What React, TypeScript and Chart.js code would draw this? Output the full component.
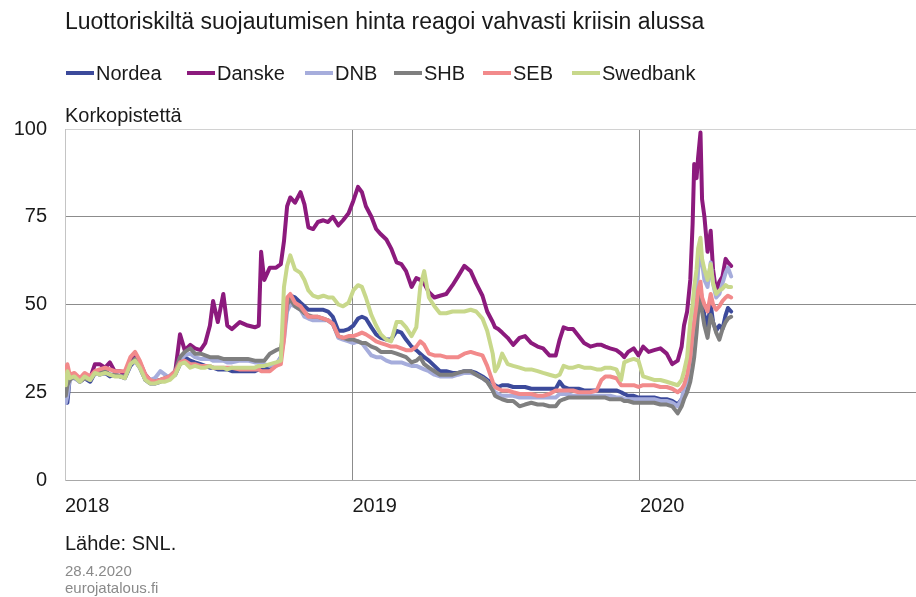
import React, { useEffect, useRef } from "react";
import { Chart, registerables } from "chart.js";

Chart.register(...registerables);

const titleText = "Luottoriskiltä suojautumisen hinta reagoi vahvasti kriisin alussa";
const unitText = "Korkopistettä";
const sourceText = "Lähde: SNL.";
const dateText = "28.4.2020";
const siteText = "eurojatalous.fi";

const yearTicks = [2018, 2019, 2020];
const yTicks = [0, 25, 50, 75, 100];

const dates = [
  "2018-01-02", "2018-01-04", "2018-01-07", "2018-01-13", "2018-01-20", "2018-01-26", "2018-02-02", "2018-02-08", "2018-02-14", "2018-02-21",
  "2018-02-27", "2018-03-05", "2018-03-12", "2018-03-18", "2018-03-25", "2018-03-31", "2018-04-06", "2018-04-13", "2018-04-19", "2018-04-25",
  "2018-05-02", "2018-05-08", "2018-05-14", "2018-05-21", "2018-05-27", "2018-06-02", "2018-06-09", "2018-06-15", "2018-06-22", "2018-06-28",
  "2018-07-04", "2018-07-08", "2018-07-14", "2018-07-21", "2018-07-26", "2018-08-01", "2018-08-11", "2018-08-21", "2018-08-30", "2018-09-04",
  "2018-09-07", "2018-09-11", "2018-09-18", "2018-09-26", "2018-10-02", "2018-10-06", "2018-10-10", "2018-10-14", "2018-10-20", "2018-10-27",
  "2018-11-01", "2018-11-06", "2018-11-12", "2018-11-18", "2018-11-25", "2018-12-01", "2018-12-07", "2018-12-14", "2018-12-20", "2018-12-27",
  "2019-01-02", "2019-01-08", "2019-01-13", "2019-01-18", "2019-01-25", "2019-01-31", "2019-02-06", "2019-02-13", "2019-02-19", "2019-02-26",
  "2019-03-04", "2019-03-10", "2019-03-17", "2019-03-23", "2019-03-28", "2019-04-02", "2019-04-08", "2019-04-15", "2019-04-22", "2019-04-30",
  "2019-05-08", "2019-05-15", "2019-05-23", "2019-05-31", "2019-06-07", "2019-06-15", "2019-06-21", "2019-06-28", "2019-07-01", "2019-07-05",
  "2019-07-10", "2019-07-17", "2019-07-24", "2019-08-01", "2019-08-08", "2019-08-16", "2019-08-24", "2019-08-31", "2019-09-08", "2019-09-16",
  "2019-09-21", "2019-09-26", "2019-10-02", "2019-10-08", "2019-10-15", "2019-10-22", "2019-10-30", "2019-11-07", "2019-11-13", "2019-11-18",
  "2019-11-24", "2019-12-02", "2019-12-08", "2019-12-12", "2019-12-17", "2019-12-24", "2019-12-30", "2020-01-05", "2020-01-12", "2020-01-19",
  "2020-01-27", "2020-02-04", "2020-02-11", "2020-02-18", "2020-02-23", "2020-02-26", "2020-03-01", "2020-03-05", "2020-03-08", "2020-03-10",
  "2020-03-13", "2020-03-15", "2020-03-18", "2020-03-20", "2020-03-23", "2020-03-27", "2020-03-31", "2020-04-03", "2020-04-07", "2020-04-11",
  "2020-04-15", "2020-04-19", "2020-04-22", "2020-04-26",
];

const nordea = [
  23, 22, 29, 29.5, 28, 29, 28, 30.5, 30, 30.5,
  29.5, 30, 29.5, 29, 32.5, 34, 32, 28.5, 27.5, 27.5,
  28, 28.5, 29, 30, 33, 35, 34, 33.5, 33, 32.5,
  32, 32, 31.5, 31.5, 31.5, 31, 31, 31, 31, 31.5,
  31.5, 31.5, 32, 32.5, 35, 43, 51, 52.5, 52, 50.5,
  49.5, 48.5, 48.5, 48.5, 48.5, 48, 46.5, 42.5, 42.5, 43,
  44, 46, 46.5, 46, 43.5, 41.5, 40.5, 40, 40, 42.5,
  42, 40, 38, 37, 36, 35, 34, 32.5, 31, 31,
  30.5, 30.5, 31, 31, 30.5, 29.5, 28.5, 27.5, 27, 26.5,
  27, 27, 26.5, 26.5, 26.5, 26, 26, 26, 26, 26,
  28, 26.5, 26, 26, 26, 25.5, 25.5, 25.5, 25.5, 25.5,
  25.5, 25.5, 25, 24.5, 24, 24, 23.5, 23.5, 23.5, 23.5,
  23, 23, 22.5, 21.5, 23, 24, 26, 29, 36, 40,
  46, 52, 55, 50, 47, 44, 50, 45, 42.5, 44,
  43, 47, 49, 48,
];

const danske = [
  28, 30, 30, 29, 28.5, 29, 29, 33, 33, 32,
  33.5, 31, 31, 30, 34, 35, 33.5, 30, 28.5, 28,
  28.5, 28.5, 29.5, 31, 41.5, 37, 38.5, 37.5, 37, 39,
  44, 51, 45, 53, 44, 43, 45, 44, 43.5, 44,
  65, 57, 60.5, 60.5, 61.5, 68, 78, 80.5, 79, 82,
  78.5, 72, 71.5, 73.5, 74, 73.5, 75, 72.5, 74, 76,
  79.5, 83.5, 82, 78, 75, 71.5, 70, 68.5, 66, 62,
  61.5, 59.5, 55, 57.5, 57, 56, 53.5, 52, 52.5, 53,
  55.5, 58, 61, 59.5, 56, 52.5, 48, 45, 43.5, 43,
  42, 40.5, 38.5, 40.5, 41, 39, 38, 37.5, 35.5, 35.5,
  40, 43.5, 43, 43, 41, 39, 38, 38.5, 38.5, 38,
  37.5, 37, 36, 35, 36.5, 37.5, 35.5, 38, 36.5, 37,
  37.5, 36, 33, 34, 38, 44, 48, 57, 73, 90,
  86, 92, 99, 80, 75, 65, 71, 60, 53.5, 56.5,
  58, 63, 62, 61,
];

const dnb = [
  22, 24, 29, 29, 28, 29, 28.5, 30.5, 30, 31,
  30, 30, 29.5, 29.5, 33, 34, 32, 29, 28.5, 29,
  31, 30, 29, 30.5, 34, 35.5, 36, 35, 34.5, 34.5,
  34.5, 34, 34, 34, 33.5, 33.5, 34, 34, 33.5, 33.5,
  33, 33, 32.5, 33, 35, 40, 48, 50, 49.5, 48.5,
  46.5, 46, 45.5, 45.5, 45.5, 45.5, 44.5, 40.5, 40, 39.5,
  39, 39.5, 39, 37.5, 35.5, 35, 35, 34, 33.5, 33.5,
  33.5, 33, 32.5, 32.5, 32, 31.5, 31, 30, 29.5, 29.5,
  29.5, 30, 30.5, 30.5, 30, 29, 28, 26, 25, 24.5,
  24, 24, 24, 23.5, 23.5, 23.5, 23.5, 23.5, 23.5, 23.5,
  24.5, 24.5, 24.5, 24, 24, 24, 24, 24, 24, 24,
  24, 23.5, 23.5, 23, 23, 23, 23, 23, 23, 23,
  22.5, 22.5, 22, 21, 23, 26, 28, 33, 40, 45,
  52, 60, 65, 62, 57, 55, 62, 56, 52, 53,
  56, 59, 60.5, 58,
];

const shb = [
  24, 27, 28.5, 29.5, 28, 29, 28.5, 30.5, 30.5, 31,
  30, 30, 29.5, 29.5, 33, 34.5, 32.5, 29, 28, 28,
  28.5, 29, 29.5, 31, 35, 36.5, 37.5, 36, 36, 35.5,
  35, 35, 35, 34.5, 34.5, 34.5, 34.5, 34.5, 34, 34,
  34, 34, 36, 37, 37.5, 42, 50, 51.5, 49.5, 48.5,
  47.5, 47, 46.5, 46.5, 46, 45.5, 44.5, 41, 40.5, 40,
  40, 39.5, 39, 39, 38, 37.5, 36.5, 36.5, 36.5, 36,
  35.5, 35, 33.5, 34, 35, 33, 32, 31, 30, 30,
  30, 30.5, 31, 31, 30, 29, 28, 25.5, 24, 23.5,
  23, 22.5, 22.5, 21, 21.5, 22, 21.5, 21.5, 21, 21,
  22.5, 23, 23.5, 23.5, 23.5, 23.5, 23.5, 23.5, 23.5, 23.5,
  23, 23, 23, 22.5, 22.5, 22, 22, 22, 22, 22,
  21.5, 21.5, 21, 19, 21, 23, 25, 28, 32, 35,
  42, 48, 52.5, 48, 44, 40.5, 47, 45, 42, 40,
  43, 45, 46, 46.5,
];

const seb = [
  31, 33, 30, 30.5, 29, 30.5, 29.5, 31, 31.5, 32,
  31.5, 31, 31, 31, 35, 36.5, 34, 30, 28.5, 28,
  28.5, 29, 29.5, 31, 33.5, 34, 33, 33, 32.5, 32.5,
  32.5, 32, 32, 32, 32, 32, 31.5, 31.5, 31.5, 31.5,
  31, 31, 31, 32.5, 33, 40, 52, 53, 50.5, 49.5,
  48, 46.5, 46.5, 46.5, 46, 45.5, 44.5, 41, 40.5, 41,
  41, 41.5, 42, 41.5, 40.5, 39.5, 39, 38.5, 38, 38,
  37.5, 37, 37, 38, 39.5, 38.5, 36, 35.5, 35.5, 35,
  35, 35, 36, 36.5, 36, 35.5, 32.5, 28, 26.5, 26,
  25.5, 25.5, 25, 24.5, 24.5, 24.5, 24, 24, 24.5, 25.5,
  25.5, 25.5, 25.5, 25.5, 25, 25, 25, 25.5, 28.5, 29.5,
  29.5, 29, 27, 27, 27, 27, 26.5, 27, 27, 27,
  26.5, 26.5, 26, 25, 26, 27, 30, 35, 42, 45,
  50, 54, 56.5, 52, 50, 48, 53, 50, 48.5, 49.5,
  51, 52, 52.5, 52,
];

const swedbank = [
  27, 31, 29, 29.5, 28, 29.5, 28.5, 30.5, 30, 30.5,
  30, 29.5, 29.5, 29, 33, 34, 32, 28.5, 27.5, 27.5,
  28, 28, 28.5, 30, 33, 33.5, 32, 32.5, 32, 32,
  32.5, 32, 32, 32, 31.5, 32, 32, 32, 32, 32.5,
  32.5, 32.5, 33, 33.5, 34, 55, 61, 64, 60, 59,
  57, 54, 52.5, 52, 52.5, 52, 52, 50, 49.5, 50.5,
  54, 55.5, 55, 52, 47, 44, 41.5, 40, 39.5, 45,
  45, 43.5, 41, 43.5, 55, 59.5, 52, 49.5, 47.5, 47.5,
  48, 48, 48, 48.5, 48, 46, 42.5, 36, 31, 32.5,
  36, 33, 32.5, 32, 31.5, 31.5, 31, 30.5, 30, 29.5,
  30, 32.5, 32, 32, 32.5, 32, 32, 31.5, 31.5, 32,
  32, 31.5, 28.5, 33.5, 34, 34.5, 34, 29.5, 29, 28.5,
  28.5, 28, 27.5, 27, 28.5, 31, 35, 45, 50, 55,
  60, 66, 69, 63, 60, 57, 61.5, 56, 53, 54,
  54.5, 55.5, 55, 55,
];

const seriesNames = ["Nordea", "Danske", "DNB", "SHB", "SEB", "Swedbank"];
const seriesValues = [nordea, danske, dnb, shb, seb, swedbank];
const seriesColors = ["#3c4a9b", "#8c1a7d", "#a6addc", "#7f7f7f", "#f28a8b", "#c8d88b"];
const legendLefts = [66, 187, 305, 394, 483, 572];

const FONT = "'Liberation Sans', Arial, Helvetica, sans-serif";

function toYear(d: string): number {
  const [y, m, day] = d.split("-").map(Number);
  const start = Date.UTC(y, 0, 1);
  const end = Date.UTC(y + 1, 0, 1);
  return y + (Date.UTC(y, m - 1, day) - start) / (end - start);
}

export default function App() {
  const canvasRef = useRef<HTMLCanvasElement | null>(null);

  useEffect(() => {
    const canvas = canvasRef.current;
    if (!canvas) return;
    const xs = dates.map(toYear);
    const datasets = seriesNames.map((name, i) => ({
      label: name,
      data: xs.map((x, j) => ({ x, y: seriesValues[i][j] })),
      borderColor: seriesColors[i],
      backgroundColor: seriesColors[i],
      borderWidth: 4,
      pointRadius: 0,
      tension: 0,
      fill: false,
      borderJoinStyle: "round" as const,
      borderCapStyle: "round" as const,
      order: seriesNames.length - i,
    }));

    const chart = new Chart(canvas, {
      type: "line",
      data: { datasets },
      options: {
        animation: false,
        responsive: false,
        devicePixelRatio: 1,
        layout: { padding: { top: 129, left: 0, right: 0, bottom: 0 } },
        plugins: {
          legend: { display: false },
          title: { display: false },
          tooltip: { enabled: false },
        },
        scales: {
          x: {
            type: "linear",
            min: 2018,
            max: 2020.96,
            afterBuildTicks: (scale: any) => {
              scale.ticks = yearTicks.map((v) => ({ value: v }));
            },
            afterFit: (scale: any) => {
              scale.height = 117;
              scale.paddingLeft = 0;
              scale.paddingRight = 0;
            },
            grid: {
              drawTicks: false,
              lineWidth: 1,
              color: (ctx: any) =>
                ctx.tick && ctx.tick.value === 2018 ? "rgba(0,0,0,0)" : "#8c8c8c",
            },
            border: { display: true, color: "#a8a8a8", width: 1 },
            ticks: {
              align: "start",
              padding: 14,
              color: "#1a1a1a",
              font: { family: FONT, size: 20 },
              maxRotation: 0,
              callback: (v: any) => String(v),
            },
          },
          y: {
            type: "linear",
            min: 0,
            max: 100,
            afterBuildTicks: (scale: any) => {
              scale.ticks = yTicks.map((v) => ({ value: v }));
            },
            afterFit: (scale: any) => {
              scale.width = 65;
            },
            grid: {
              drawTicks: false,
              lineWidth: 1,
              color: (ctx: any) => {
                const v = ctx.tick ? ctx.tick.value : -1;
                if (v === 0) return "rgba(0,0,0,0)";
                if (v === 100) return "#d2d2d2";
                return "#8c8c8c";
              },
            },
            border: { display: true, color: "#c4c4c4", width: 1 },
            ticks: {
              padding: 18,
              color: "#1a1a1a",
              font: { family: FONT, size: 20 },
              callback: (v: any) => String(v),
            },
          },
        },
      },
    });
    return () => chart.destroy();
  }, []);

  const textBase: React.CSSProperties = {
    position: "absolute",
    whiteSpace: "nowrap",
    fontFamily: FONT,
    lineHeight: 1,
    color: "#1a1a1a",
  };

  return (
    <div style={{ position: "absolute", left: 0, top: 0, width: 916, height: 597, background: "#fff", overflow: "hidden" }}>
      <canvas ref={canvasRef} width={916} height={597} style={{ position: "absolute", left: 0, top: 0, width: 916, height: 597 }} />
      <div style={{ ...textBase, left: 65, top: 10, fontSize: 23 }}>{titleText}</div>
      {seriesNames.map((name, i) => (
        <div key={name} style={{ ...textBase, left: legendLefts[i], top: 63, fontSize: 20, display: "flex", alignItems: "center" }}>
          <span style={{ display: "inline-block", width: 28, height: 4, background: seriesColors[i], marginRight: 2 }} />
          <span>{name}</span>
        </div>
      ))}
      <div style={{ ...textBase, left: 65, top: 105, fontSize: 20 }}>{unitText}</div>
      <div style={{ ...textBase, left: 65, top: 533, fontSize: 20 }}>{sourceText}</div>
      <div style={{ ...textBase, left: 65, top: 563, fontSize: 15, color: "#8a8a8a" }}>{dateText}</div>
      <div style={{ ...textBase, left: 65, top: 580, fontSize: 15, color: "#8a8a8a" }}>{siteText}</div>
    </div>
  );
}
